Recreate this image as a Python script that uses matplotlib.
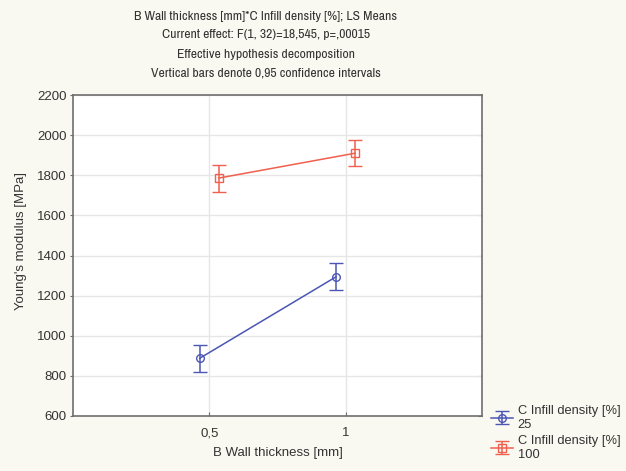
import matplotlib
matplotlib.use("Agg")
import matplotlib.pyplot as plt
import numpy as np

plt.rcParams['font.family'] = ['Liberation Sans', 'DejaVu Sans']

# LS means of Young's modulus by wall thickness and infill density
wall_labels = ["0,5", "1"]
infill_levels = ["25", "100"]
means_25 = [888, 1294]
means_100 = [1786, 1910]
ci_25 = [68, 67]
ci_100 = [67, 66]

colors = {"25": "#4b56b4", "100": "#f0604e"}
markers = {"25": "o", "100": "s"}
offsets = {"25": -0.07, "100": 0.07}
text_color = "#333333"
spine_color = "#6e6e6e"

fig = plt.figure(figsize=(6.26, 4.71), dpi=100, facecolor="#faf9f1")
ax = fig.add_axes([73 / 626, 1 - 416 / 471, (482 - 73) / 626, (416 - 95) / 471])
ax.set_facecolor("white")

x = np.arange(len(wall_labels))
handles = []
for lvl, means, ci in [("25", means_25, ci_25), ("100", means_100, ci_100)]:
    h = ax.errorbar(x + offsets[lvl], means, yerr=ci, color=colors[lvl],
                    marker=markers[lvl], markersize=5.5, markerfacecolor="none",
                    markeredgewidth=1.0, linewidth=1.1, capsize=5,
                    elinewidth=1.1, capthick=1.1,
                    label=f"C Infill density [%]\n{lvl}")
    handles.append(h)

ax.set_xlim(-1, 2)
ax.set_ylim(600, 2200)
ax.set_xticks(x)
ax.set_xticklabels(wall_labels)
ax.set_yticks(np.arange(600, 2201, 200))
ax.grid(True, color="#e6e6e6", linewidth=1.0)
ax.set_axisbelow(True)

for s in ax.spines.values():
    s.set_color(spine_color)
    s.set_linewidth(1.2)

ax.tick_params(axis="y", direction="out", length=2.5, color=spine_color,
               labelsize=9.5, labelcolor=text_color, pad=2)
ax.tick_params(axis="x", direction="in", length=3, color=spine_color,
               labelsize=9.5, labelcolor=text_color, pad=8)

# inward ticks along the right edge
right = ax.secondary_yaxis("right")
right.set_yticks(np.arange(600, 2201, 200))
right.tick_params(direction="in", length=3, color=spine_color, labelright=False)
right.spines["right"].set_visible(False)

ax.set_xlabel("B Wall thickness [mm]", fontsize=9.5, color=text_color, labelpad=6)
ax.set_ylabel("Young's modulus [MPa]", fontsize=9.5, color=text_color)
ax.yaxis.set_label_coords(-0.113, 0.545)

title_lines = [
    "B Wall thickness [mm]*C Infill density [%]; LS Means",
    "Current effect: F(1, 32)=18,545, p=,00015",
    "Effective hypothesis decomposition",
    "Vertical bars denote 0,95 confidence intervals",
]
for i, line in enumerate(title_lines):
    fig.text(266 / 626, 1 - (16 + 19 * i) / 471, line,
             ha="center", va="center", fontsize=9.8, color=text_color,
             family=["Archivo Narrow", "Liberation Sans"])

leg = fig.legend(handles=handles, loc="upper left",
                 bbox_to_anchor=(482 / 626, 1 - 396 / 471),
                 frameon=False, fontsize=9.3, labelcolor=text_color,
                 handlelength=1.7, handletextpad=0.35, labelspacing=0.3,
                 borderpad=0.2)

fig.savefig("out.png", dpi=100, facecolor=fig.get_facecolor())
